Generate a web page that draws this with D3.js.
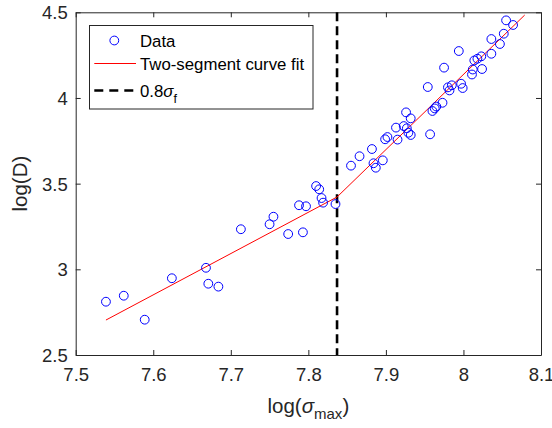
<!DOCTYPE html>
<html>
<head>
<meta charset="utf-8">
<script src="https://cdn.jsdelivr.net/npm/d3@7"></script>
<style>
  html, body { margin: 0; padding: 0; background: #fff; }
  svg { display: block; font-family: "Liberation Sans", Arial, Helvetica, sans-serif; }
</style>
</head>
<body>
<div id="chart"></div>
<script>
// ---- data ----
const xData = [7.539, 7.562, 7.589, 7.624, 7.668, 7.671, 7.684, 7.713, 7.750, 7.755,
  7.774, 7.788, 7.797, 7.793, 7.810, 7.814, 7.817, 7.819, 7.835, 7.855,
  7.866, 7.882, 7.884, 7.887, 7.896, 7.899, 7.902, 7.915, 7.913, 7.923,
  7.927, 7.926, 7.932, 7.929, 7.932, 7.957, 7.960, 7.963, 7.965, 7.973,
  7.954, 7.975, 7.980, 7.982, 7.985, 7.997, 7.999, 7.994, 8.012, 8.011,
  8.014, 8.018, 8.023, 8.024, 8.036, 8.036, 8.047, 8.052, 8.055, 8.064];
const yData = [2.811, 2.846, 2.706, 2.948, 3.009, 2.916, 2.899, 3.234, 3.263, 3.307,
  3.206, 3.374, 3.368, 3.216, 3.486, 3.467, 3.416, 3.389, 3.381, 3.605,
  3.660, 3.702, 3.619, 3.593, 3.636, 3.759, 3.772, 3.757, 3.827, 3.836,
  3.823, 3.916, 3.881, 3.797, 3.784, 3.788, 3.924, 3.939, 3.950, 3.972,
  4.064, 4.177, 4.062, 4.044, 4.074, 4.083, 4.058, 4.274, 4.166, 4.137,
  4.219, 4.229, 4.243, 4.169, 4.258, 4.344, 4.315, 4.375, 4.453, 4.426];
const fitX = [7.539, 7.837, 8.079];
const fitY = [2.704, 3.422, 4.484];
const thresholdX = 7.837;
const xTicks = [7.5, 7.6, 7.7, 7.8, 7.9, 8, 8.1];
const yTicks = [2.5, 3, 3.5, 4, 4.5];
const legendLabels = ["Data", "Two-segment curve fit", "0.8"];

// ---- layout ----
const W = 552, H = 428;
const mLeft = 75.7, mRight = 541, mTop = 12.3, mBottom = 355;
const axisColor = "#262626";

const svg = d3.select("#chart").append("svg").attr("width", W).attr("height", H);

const x = d3.scaleLinear().domain([7.5, 8.1]).range([mLeft, mRight]);
const y = d3.scaleLinear().domain([2.5, 4.5]).range([mBottom, mTop]);

// axes
const fmt = d => String(d);
const gx = svg.append("g").attr("transform", `translate(0,${mBottom})`)
  .call(d3.axisBottom(x).tickValues(xTicks).tickFormat(fmt).tickSizeInner(-5).tickSizeOuter(0).tickPadding(13));
const gxt = svg.append("g").attr("transform", `translate(0,${mTop})`)
  .call(d3.axisTop(x).tickValues(xTicks).tickFormat("").tickSizeInner(-5).tickSizeOuter(0));
const gy = svg.append("g").attr("transform", `translate(${mLeft},0)`)
  .call(d3.axisLeft(y).tickValues(yTicks).tickFormat(fmt).tickSizeInner(-5).tickSizeOuter(0).tickPadding(8));
const gyr = svg.append("g").attr("transform", `translate(${mRight},0)`)
  .call(d3.axisRight(y).tickValues(yTicks).tickFormat("").tickSizeInner(-5).tickSizeOuter(0));

[gx, gxt, gy, gyr].forEach(g => {
  g.select(".domain").attr("stroke", axisColor).attr("stroke-width", 1);
  g.selectAll(".tick line").attr("stroke", axisColor);
  g.selectAll(".tick text").attr("fill", axisColor).style("font-size", "18.5px")
    .style("font-family", '"Liberation Sans", Arial, Helvetica, sans-serif');
});
gy.selectAll(".tick text").attr("dy", "0.36em");

// axis labels
const xl = svg.append("text").attr("x", (mLeft + mRight) / 2).attr("y", 413)
  .attr("text-anchor", "middle").attr("fill", axisColor).style("font-size", "20.5px");
xl.append("tspan").text("log(");
xl.append("tspan").text("σ").style("font-style", "italic");
xl.append("tspan").text("max").attr("dy", 6).style("font-size", "15px");
xl.append("tspan").text(")").attr("dy", -6);

svg.append("text").attr("transform", `translate(27,${(mTop + mBottom) / 2}) rotate(-90)`)
  .attr("text-anchor", "middle").attr("fill", axisColor).style("font-size", "20.5px")
  .text("log(D)");

// vertical dashed line
svg.append("line")
  .attr("x1", x(thresholdX)).attr("x2", x(thresholdX))
  .attr("y1", y(4.5)).attr("y2", y(2.5))
  .attr("stroke", "#000").attr("stroke-width", 2.6).attr("stroke-dasharray", "9,5");

// fit line
const fitPts = fitX.map((v, i) => [v, fitY[i]]);
svg.append("path")
  .attr("d", d3.line().x(d => x(d[0])).y(d => y(d[1]))(fitPts))
  .attr("fill", "none").attr("stroke", "#ff0000").attr("stroke-width", 1);

// data points
svg.append("g").selectAll("circle")
  .data(xData.map((v, i) => [v, yData[i]]))
  .join("circle")
  .attr("cx", d => x(d[0])).attr("cy", d => y(d[1])).attr("r", 4.4)
  .attr("fill", "none").attr("stroke", "#0000ff").attr("stroke-width", 1);

// legend
const lg = svg.append("g");
lg.append("rect").attr("x", 89.5).attr("y", 25.5).attr("width", 223.5).attr("height", 83.5)
  .attr("fill", "#fff").attr("stroke", axisColor).attr("stroke-width", 1);
lg.append("circle").attr("cx", 114.3).attr("cy", 40.5).attr("r", 4.4)
  .attr("fill", "none").attr("stroke", "#0000ff").attr("stroke-width", 1);
lg.append("line").attr("x1", 94.3).attr("x2", 136).attr("y1", 63.5).attr("y2", 63.5)
  .attr("stroke", "#ff0000").attr("stroke-width", 1);
lg.append("line").attr("x1", 94.3).attr("x2", 136).attr("y1", 90.5).attr("y2", 90.5)
  .attr("stroke", "#000").attr("stroke-width", 2.6).attr("stroke-dasharray", "9,6");
const legFont = "16.8px";
lg.append("text").attr("x", 140).attr("y", 46.5).attr("fill", "#000").style("font-size", legFont).text(legendLabels[0]);
lg.append("text").attr("x", 140).attr("y", 70).attr("fill", "#000").style("font-size", legFont).text(legendLabels[1]);
const t3 = lg.append("text").attr("x", 140).attr("y", 96.5).attr("fill", "#000").style("font-size", legFont);
t3.append("tspan").text(legendLabels[2]);
t3.append("tspan").text("σ").style("font-style", "italic");
t3.append("tspan").text("f").attr("dy", 6).style("font-size", "12.5px");
</script>
</body>
</html>
